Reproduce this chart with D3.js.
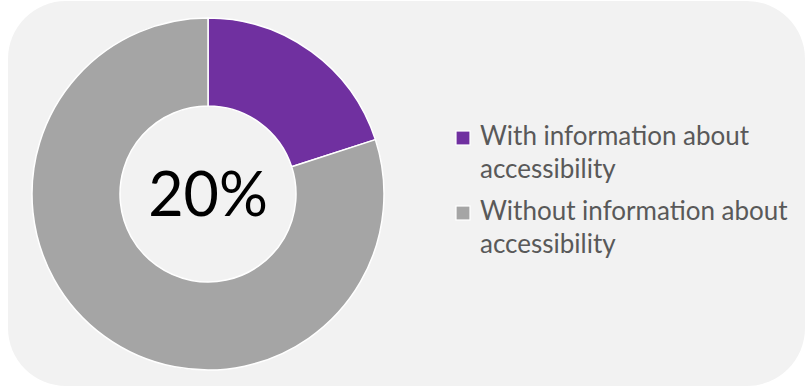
<!DOCTYPE html>
<html>
<head>
<meta charset="utf-8">
<script src="https://cdn.jsdelivr.net/npm/d3@7/dist/d3.min.js"></script>
<style>
  html, body { margin: 0; padding: 0; background: #ffffff; }
  svg { display: block; }
</style>
</head>
<body>
<svg id="chart" width="808" height="388"></svg>
<script>
// Share of listings with / without accessibility information
const categories = ["With information about accessibility", "Without information about accessibility"];
const legendLines = [["With information about", "accessibility"], ["Without information about", "accessibility"]];
const values = [20, 80];
const colors = ["#7030a0", "#a5a5a5"];
const centerLabel = "20%";

const svg = d3.select("#chart");

// Card background
svg.append("rect")
  .attr("x", 8).attr("y", 1)
  .attr("width", 797).attr("height", 385)
  .attr("rx", 58).attr("ry", 58)
  .attr("fill", "#f2f2f2");

const cx = 208, cy = 194, outerR = 176, innerR = 88;

const pie = d3.pie().sort(null).value(d => d)(values);
const arc = d3.arc().innerRadius(innerR).outerRadius(outerR);

const g = svg.append("g").attr("transform", `translate(${cx},${cy})`);
g.selectAll("path")
  .data(pie)
  .join("path")
  .attr("d", arc)
  .attr("fill", (d, i) => colors[i])
  .attr("stroke", "#ffffff")
  .attr("stroke-width", 1.5)
  .attr("stroke-linejoin", "round");

g.append("text")
  .attr("x", 0).attr("y", 22)
  .attr("text-anchor", "middle")
  .attr("font-family", "Lato, 'Open Sans', sans-serif")
  .attr("font-size", 61)
  .attr("fill", "#000000")
  .text(centerLabel);

// Legend
const legend = svg.append("g").attr("transform", "translate(456,0)");
const legendY = [145, 220];
const lineGap = 33;
categories.forEach((c, i) => {
  const item = legend.append("g");
  item.append("rect")
    .attr("x", 0).attr("y", legendY[i] - 14)
    .attr("width", 14).attr("height", 14)
    .attr("fill", colors[i])
    .attr("stroke", "#ffffff")
    .attr("stroke-width", 1.2);
  const t = item.append("text")
    .attr("font-family", "Lato, 'Open Sans', sans-serif")
    .attr("font-size", 26)
    .attr("fill", "#595959");
  legendLines[i].forEach((line, k) => {
    t.append("tspan")
      .attr("x", 24)
      .attr("y", legendY[i] + k * lineGap)
      .text(line);
  });
});
</script>
</body>
</html>
